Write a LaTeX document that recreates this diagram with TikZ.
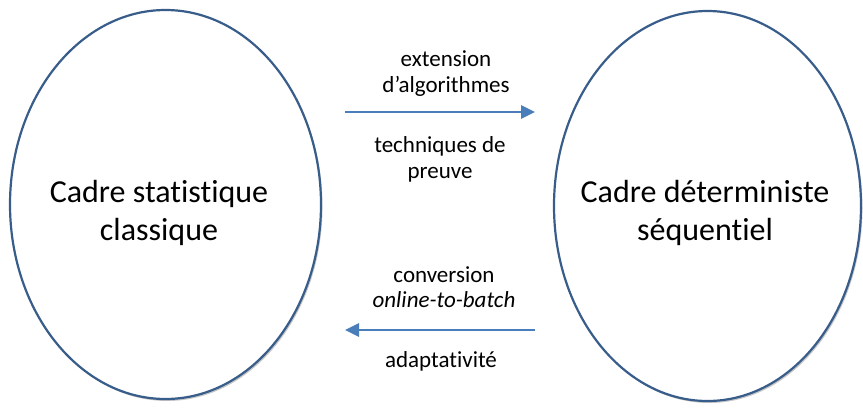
\documentclass[tikz,border=0pt]{standalone}
\usepackage{fontspec}
\setmainfont{Carlito}[Ligatures={NoCommon,NoContextual}]
\usetikzlibrary{shapes.geometric,arrows.meta,shadows}
\definecolor{ellborder}{RGB}{56,93,138}
\definecolor{arrblue}{RGB}{74,126,187}
\tikzset{
  frame/.style={ellipse, draw=ellborder, line width=2.2pt, fill=white, inner sep=0pt,
    drop shadow={shadow xshift=1.5pt, shadow yshift=-2pt, opacity=0.22, fill=black}},
  bigtext/.style={align=center, inner sep=0pt, font=\fontsize{32}{38}\selectfont},
  smalltext/.style={align=center, inner sep=0pt, font=\fontsize{23}{25.5}\selectfont},
  link/.style={draw=arrblue, line width=2.8pt, -{Triangle[length=14pt,width=13pt]}}
}
\begin{document}
\begin{tikzpicture}[x=1pt,y=-1pt]
\useasboundingbox (0,0) rectangle (863,408);
\node[frame, minimum width=311pt, minimum height=389pt] (L) at (165.5,204.5) {};
\node[frame, minimum width=307pt, minimum height=390pt] (R) at (707.5,206) {};
\node[bigtext] (Lt) at (159,213) {Cadre statistique\\classique};
\node[bigtext] (Rt) at (705,213) {Cadre déterministe\\séquentiel};
\coordinate (a1) at (345,112);
\coordinate (b1) at (535,112);
\coordinate (a2) at (535,330);
\coordinate (b2) at (345,330);
\draw[link] (a1) -- (b1);
\draw[link] (a2) -- (b2);
\node[smalltext] (t1) at (446,73.5) {extension\\d’algorithmes};
\node[smalltext] (t2) at (440,159.5) {techniques de\\preuve};
\node[smalltext] (t3) at (444,287) {conversion\\\textit{online-to-batch}};
\node[smalltext] (t4) at (441,361) {adaptativité};
\end{tikzpicture}
\end{document}
